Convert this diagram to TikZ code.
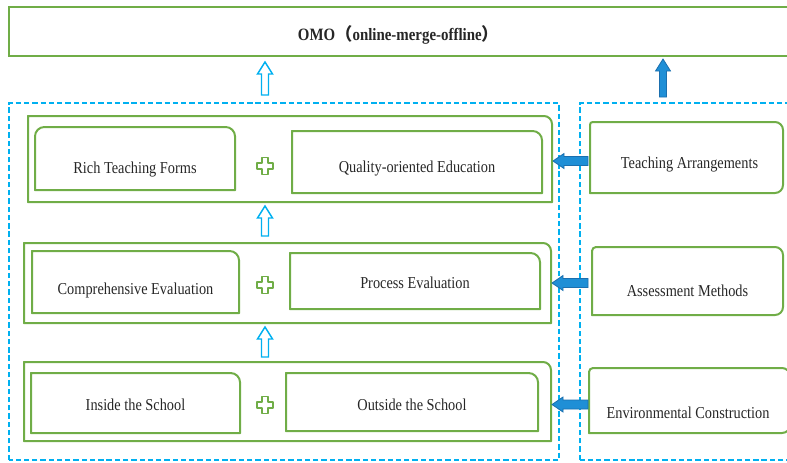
\documentclass[tikz,border=0pt]{standalone}
\usepackage{fontspec}
\setmainfont{Liberation Serif}
\newfontfamily\lblfont[FakeStretch=0.86]{Liberation Serif}
\newfontfamily\cjkfont{Noto Sans CJK SC}
\usetikzlibrary{calc,fit}
\definecolor{boxgreen}{HTML}{70AD47}
\definecolor{dashblue}{HTML}{00B0F0}
\definecolor{arrowblue}{HTML}{1F8FD6}
\definecolor{arrowedge}{HTML}{1B6FAE}
\definecolor{textgray}{HTML}{262626}

% box outline with an individual radius per corner: node, tl, tr, br, bl
\newcommand\cornerbox[5]{%
  \draw[boxline] ([yshift=#5]#1.south west) -- ([yshift=-#2]#1.north west)
    arc[start angle=180,end angle=90,radius=#2]
    -- ([xshift=-#3]#1.north east) arc[start angle=90,end angle=0,radius=#3]
    -- ([yshift=#4]#1.south east) arc[start angle=0,end angle=-90,radius=#4]
    -- ([xshift=#5]#1.south west) arc[start angle=270,end angle=180,radius=#5]
    -- cycle;}

% hollow green plus sign centred on a named coordinate
\newcommand\plusmark[1]{%
  \draw[plusline,shift={(#1)}] (-3,-8.5) -- (3,-8.5) -- (3,-3) -- (8,-3)
    -- (8,3) -- (3,3) -- (3,8.5) -- (-3,8.5) -- (-3,3) -- (-8,3)
    -- (-8,-3) -- (-3,-3) -- cycle;}

\tikzset{
  area/.style={inner sep=0pt, outer sep=0pt},
  boxline/.style={draw=boxgreen, line width=1.5pt},
  plusline/.style={draw=boxgreen, line width=1.35pt, fill=white, line join=round},
  panel/.style={draw=dashblue, line width=1.1pt, dash pattern=on 4pt off 2.2pt},
  lbl/.style={font=\lblfont\fontsize{12.5}{14}\selectfont, text=textgray, inner sep=1pt},
  uparrowpath/.style={to path={
      ($(\tikztostart)+(-3.5,0)$) -- ($(\tikztotarget)+(-3.5,12)$)
      -- ($(\tikztotarget)+(-7.5,12)$) -- (\tikztotarget)
      -- ($(\tikztotarget)+(7.5,12)$) -- ($(\tikztotarget)+(3.5,12)$)
      -- ($(\tikztostart)+(3.5,0)$) -- cycle}},
  leftarrowpath/.style={to path={
      ($(\tikztostart)+(0,-4.5)$) -- ($(\tikztotarget)+(11,-4.5)$)
      -- ($(\tikztotarget)+(11,-7.5)$) -- (\tikztotarget)
      -- ($(\tikztotarget)+(11,7.5)$) -- ($(\tikztotarget)+(11,4.5)$)
      -- ($(\tikztostart)+(0,4.5)$) -- cycle}},
  hollowup/.style={uparrowpath, draw=dashblue, fill=white, line width=1.1pt, line join=miter},
  solidup/.style={uparrowpath, draw=arrowedge, fill=arrowblue, line width=0.6pt},
  solidleft/.style={leftarrowpath, draw=arrowedge, fill=arrowblue, line width=0.6pt},
}

\begin{document}
\begin{tikzpicture}[x=0.75pt, y=-0.75pt]
  \path[use as bounding box] (0,0) rectangle (787,462);
  \clip (0,0) rectangle (787,462);

  % top goal bar
  \node[area, fit={(9,7) (800,56)}] (omo) {};
  \draw[boxline] (omo.south west) rectangle (omo.north east);
  \node[lbl, font=\lblfont\bfseries\fontsize{13}{15}\selectfont] (omoT) at ($(omo.center)+(-6,3)$)
    {OMO{\cjkfont（}online-merge-offline{\cjkfont）}};

  % dashed panels
  \node[area, fit={(9,103) (559,460)}] (left) {};
  \node[area, fit={(580,103) (800,460)}] (right) {};
  \draw[panel] (left.south west) rectangle (left.north east);
  \draw[panel] (right.south west) rectangle (right.north east);

  % row 1
  \node[area, fit={(28,116) (552,202)}] (row1) {};
  \node[area, fit={(35,127) (235,190)}] (rich) {};
  \node[area, fit={(292,131) (542,193)}] (quality) {};
  \node[area, fit={(590,122) (783,193)}] (teach) {};
  \cornerbox{row1}{0.01pt}{6pt}{0.01pt}{0.01pt}
  \cornerbox{rich}{7pt}{7pt}{0.01pt}{0.01pt}
  \cornerbox{quality}{0.01pt}{7pt}{0.01pt}{0.01pt}
  \cornerbox{teach}{2pt}{6pt}{6pt}{0.01pt}
  \node[lbl] (richT) at ($(rich.center)+(0,11.5)$) {Rich Teaching Forms};
  \node[lbl] (qualityT) at ($(quality.center)+(0,6.5)$) {Quality-oriented Education};
  \node[lbl] (teachT) at ($(teach.center)+(3,7)$) {Teaching Arrangements};
  \coordinate (plus1) at (265,166);
  \plusmark{plus1}

  % row 2
  \node[area, fit={(24,243) (551,323)}] (row2) {};
  \node[area, fit={(32,251) (239,313)}] (compr) {};
  \node[area, fit={(290,253) (540,309)}] (process) {};
  \node[area, fit={(592,247) (783,315)}] (assess) {};
  \cornerbox{row2}{0.01pt}{6pt}{0.01pt}{0.01pt}
  \cornerbox{compr}{0.01pt}{7pt}{0.01pt}{0.01pt}
  \cornerbox{process}{0.01pt}{7pt}{0.01pt}{0.01pt}
  \cornerbox{assess}{3pt}{6pt}{6pt}{0.01pt}
  \node[lbl] (comprT) at ($(compr.center)+(0,8.5)$) {Comprehensive Evaluation};
  \node[lbl] (processT) at ($(process.center)+(0,1.5)$) {Process Evaluation};
  \node[lbl] (assessT) at ($(assess.center)+(0,9.5)$) {Assessment Methods};
  \coordinate (plus2) at (265,285);
  \plusmark{plus2}

  % row 3
  \node[area, fit={(24,362) (551,441)}] (row3) {};
  \node[area, fit={(31,373) (240,433)}] (inside) {};
  \node[area, fit={(286,373) (538,431)}] (outside) {};
  \node[area, fit={(589,368) (790,433)}] (env) {};
  \cornerbox{row3}{0.01pt}{6pt}{0.01pt}{0.01pt}
  \cornerbox{inside}{0.01pt}{7pt}{0.01pt}{0.01pt}
  \cornerbox{outside}{0.01pt}{7pt}{0.01pt}{0.01pt}
  \cornerbox{env}{3pt}{6pt}{6pt}{0.01pt}
  \node[lbl] (insideT) at ($(inside.center)+(0,1.5)$) {Inside the School};
  \node[lbl] (outsideT) at ($(outside.center)+(0,3)$) {Outside the School};
  \node[lbl] (envT) at (688,412.5) {Environmental Construction};
  \coordinate (plus3) at (265,405);
  \plusmark{plus3}

  % upward flow between the levels
  \coordinate (u1s) at ($(left.north -| plus1)+(0,-8)$);
  \coordinate (u1e) at ($(omo.south -| plus1)+(0,6)$);
  \coordinate (u2s) at ($(row2.north -| plus1)+(0,-7)$);
  \coordinate (u2e) at ($(row1.south -| plus1)+(0,4)$);
  \coordinate (u3s) at ($(row3.north -| plus1)+(0,-5)$);
  \coordinate (u3e) at ($(row2.south -| plus1)+(0,4)$);
  \draw[hollowup] (u1s) to (u1e);
  \draw[hollowup] (u2s) to (u2e);
  \draw[hollowup] (u3s) to (u3e);

  \coordinate (f0s) at (663,97);
  \coordinate (f0e) at ($(omo.south -| f0s)+(0,3)$);
  \draw[solidup] (f0s) to (f0e);

  % support arrows from the right panel
  \coordinate (l1s) at ($(row1.east -| teach.west)+(-2,2)$);
  \coordinate (l1e) at ($(row1.east)+(1,2)$);
  \coordinate (l2s) at ($(row2.east -| assess.west)+(-4,0)$);
  \coordinate (l2e) at ($(row2.east)+(1,0)$);
  \coordinate (l3s) at ($(row3.east -| env.west)+(-1,3)$);
  \coordinate (l3e) at ($(row3.east)+(1,3)$);
  \draw[solidleft] (l1s) to (l1e);
  \draw[solidleft] (l2s) to (l2e);
  \draw[solidleft] (l3s) to (l3e);
\end{tikzpicture}
\end{document}
